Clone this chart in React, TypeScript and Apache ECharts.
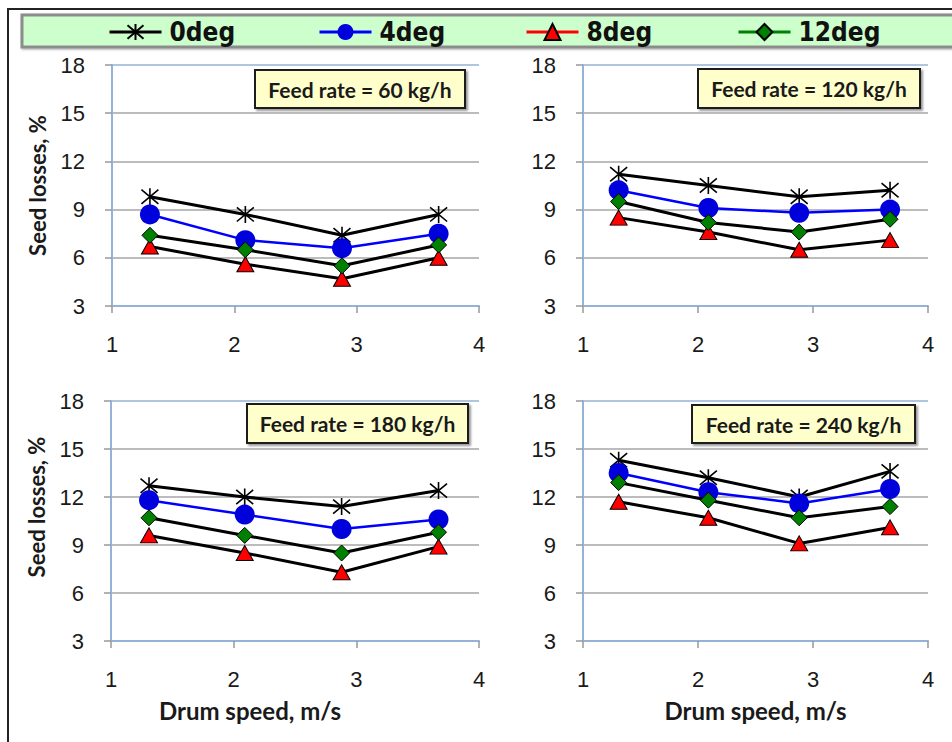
import React, { useEffect, useRef } from "react";
import * as echarts from "echarts";

const angles = ["0deg", "4deg", "8deg", "12deg"];
const drumSpeed = [1.31, 2.09, 2.88, 3.67];
const feedRates = ["60", "120", "180", "240"];

const loss60_0 = [9.8, 8.7, 7.4, 8.7];
const loss60_4 = [8.7, 7.1, 6.6, 7.5];
const loss60_8 = [6.7, 5.6, 4.7, 6.0];
const loss60_12 = [7.4, 6.5, 5.5, 6.8];

const loss120_0 = [11.2, 10.5, 9.8, 10.2];
const loss120_4 = [10.2, 9.1, 8.8, 9.0];
const loss120_8 = [8.5, 7.6, 6.5, 7.1];
const loss120_12 = [9.5, 8.2, 7.6, 8.4];

const loss180_0 = [12.7, 12.0, 11.4, 12.4];
const loss180_4 = [11.8, 10.9, 10.0, 10.6];
const loss180_8 = [9.6, 8.5, 7.3, 8.9];
const loss180_12 = [10.7, 9.6, 8.5, 9.8];

const loss240_0 = [14.3, 13.2, 12.0, 13.6];
const loss240_4 = [13.5, 12.3, 11.6, 12.5];
const loss240_8 = [11.7, 10.7, 9.1, 10.1];
const loss240_12 = [12.9, 11.8, 10.7, 11.4];

const panelValues = [
  [loss60_0, loss60_4, loss60_8, loss60_12],
  [loss120_0, loss120_4, loss120_8, loss120_12],
  [loss180_0, loss180_4, loss180_8, loss180_12],
  [loss240_0, loss240_4, loss240_8, loss240_12],
];

const STAR = "path://M0,0L10,10M10,0L0,10M5,-1L5,11";

const seriesStyle: any[] = [
  {
    symbol: STAR,
    symbolSize: 17,
    lineStyle: { color: "#000", width: 3 },
    itemStyle: { color: "#000", borderColor: "#000", borderWidth: 1.6 },
  },
  {
    symbol: "circle",
    symbolSize: 20,
    lineStyle: { color: "#0000ff", width: 2.5 },
    itemStyle: { color: "#0000dd", borderColor: "#0000dd", borderWidth: 0 },
  },
  {
    symbol: "triangle",
    symbolSize: [17, 15],
    lineStyle: { color: "#000", width: 3 },
    itemStyle: { color: "#ff0000", borderColor: "#000", borderWidth: 1 },
  },
  {
    symbol: "diamond",
    symbolSize: 16,
    lineStyle: { color: "#000", width: 3 },
    itemStyle: { color: "#008000", borderColor: "#000", borderWidth: 1 },
  },
];

const legendLineColors = ["#000", "#0000ff", "#ff0000", "#008000"];
const legendLefts = [108, 318, 525, 737];

const grids = [
  { left: 112, top: 65, width: 367, height: 241 },
  { left: 583, top: 65, width: 345, height: 241 },
  { left: 111, top: 401, width: 368, height: 240 },
  { left: 583, top: 401, width: 345, height: 240 },
];

const boxes = [
  { x: 255, y: 70, w: 210, h: 38 },
  { x: 698, y: 69, w: 222, h: 39 },
  { x: 247, y: 404, w: 221, h: 39 },
  { x: 692, y: 405, w: 223, h: 38 },
];

const NAME_FONT = "Lato, 'Open Sans', sans-serif";
const TICK_FONT = "'Liberation Sans', Arial, sans-serif";
const LEGEND_FONT = "'Liberation Sans Narrow', 'DejaVu Sans Condensed', 'Liberation Sans', sans-serif";
const BLUE_BORDER = "#95b3d7";
const GRID_GRAY = "#a6a6a6";

export default function App() {
  const ref = useRef<HTMLDivElement>(null);

  useEffect(() => {
    if (!ref.current) return;
    const chart = echarts.init(ref.current, undefined, { renderer: "svg" });

    const xAxis = grids.map((_, i) => ({
      type: "value",
      gridIndex: i,
      min: 1,
      max: 4,
      interval: 1,
      axisLine: { show: true, lineStyle: { color: BLUE_BORDER, width: 2 } },
      axisTick: { show: true, inside: false, length: 7, lineStyle: { color: "#999", width: 1.5 } },
      axisLabel: { margin: 27, fontFamily: TICK_FONT, fontSize: 22, color: "#1a1a1a" },
      splitLine: { show: false },
      name: i >= 2 ? "Drum speed, m/s" : "",
      nameLocation: "middle",
      nameGap: 57,
      nameTextStyle: {
        fontFamily: NAME_FONT,
        fontWeight: "bold",
        fontSize: 24,
        color: "#1a1a1a",
        padding: i === 2 ? [0, 90, 0, 0] : 0,
      },
    }));

    const yAxis = grids.map((_, i) => ({
      type: "value",
      gridIndex: i,
      min: 3,
      max: 18,
      interval: 3,
      axisLine: { show: true, lineStyle: { color: BLUE_BORDER, width: 2 } },
      axisTick: { show: true, inside: false, length: 7, lineStyle: { color: "#999", width: 1.5 } },
      axisLabel: { margin: 27, fontFamily: TICK_FONT, fontSize: 22, color: "#1a1a1a" },
      splitLine: {
        show: true,
        lineStyle: {
          color: [BLUE_BORDER, GRID_GRAY, GRID_GRAY, GRID_GRAY, GRID_GRAY, BLUE_BORDER],
          width: 1.5,
        },
      },
      name: i % 2 === 0 ? "Seed losses, %" : "",
      nameLocation: "middle",
      nameGap: 64,
      nameTextStyle: {
        fontFamily: NAME_FONT,
        fontWeight: "bold",
        fontSize: 22,
        color: "#1a1a1a",
        padding: i === 2 ? [0, 0, 0, 28] : 0,
      },
    }));

    const series: any[] = [];
    panelValues.forEach((vals, gi) => {
      vals.forEach((arr, si) => {
        series.push({
          type: "line",
          name: angles[si],
          xAxisIndex: gi,
          yAxisIndex: gi,
          data: arr.map((v, k) => [drumSpeed[k], v]),
          showSymbol: true,
          z: 2 + si,
          ...seriesStyle[si],
        });
      });
    });

    const legend = angles.map((a, i) => ({
      show: true,
      left: legendLefts[i],
      top: 19,
      padding: 0,
      itemWidth: 52,
      itemHeight: 20,
      selectedMode: false,
      data: [
        {
          name: a,
          lineStyle: { color: legendLineColors[i], width: 3 },
        },
      ],
      textStyle: {
        fontFamily: LEGEND_FONT,
        fontWeight: "bold",
        fontSize: 26,
        color: "#111",
        padding: [0, 0, 0, 3],
      },
    }));

    const graphic: any[] = [
      {
        type: "rect",
        z: -10,
        shape: { x: 8, y: 9, width: 1000, height: 1000 },
        style: { fill: "#fff", stroke: "#222", lineWidth: 2 },
      },
      {
        type: "rect",
        z: -5,
        shape: { x: 22, y: 15, width: 990, height: 32 },
        style: {
          fill: "#ccffcc",
          stroke: "#8c8c8c",
          lineWidth: 3,
          shadowBlur: 2,
          shadowColor: "rgba(0,0,0,0.35)",
          shadowOffsetX: 1,
          shadowOffsetY: 1,
        },
      },
    ];
    boxes.forEach((b, i) => {
      graphic.push({
        type: "group",
        z: 20,
        children: [
          {
            type: "rect",
            shape: { x: b.x, y: b.y, width: b.w, height: b.h },
            style: {
              fill: "#ffffcc",
              stroke: "#1a1a1a",
              lineWidth: 2,
              shadowBlur: 2,
              shadowColor: "rgba(0,0,0,0.4)",
              shadowOffsetX: 2,
              shadowOffsetY: 2,
            },
          },
          {
            type: "text",
            x: b.x + b.w / 2,
            y: b.y + b.h / 2,
            style: {
              text: `Feed rate = ${feedRates[i]} kg/h`,
              align: "center",
              verticalAlign: "middle",
              fontFamily: NAME_FONT,
              fontWeight: "bold",
              fontSize: 21,
              fill: "#1a1a1a",
            },
          },
        ],
      });
    });

    chart.setOption({
      animation: false,
      backgroundColor: "#fff",
      grid: grids.map((g) => ({ ...g, containLabel: false })),
      xAxis,
      yAxis,
      legend,
      series,
      graphic,
    });

    return () => chart.dispose();
  }, []);

  return (
    <div
      ref={ref}
      style={{ position: "fixed", left: 0, top: 0, width: 952, height: 742, background: "#fff" }}
    />
  );
}
